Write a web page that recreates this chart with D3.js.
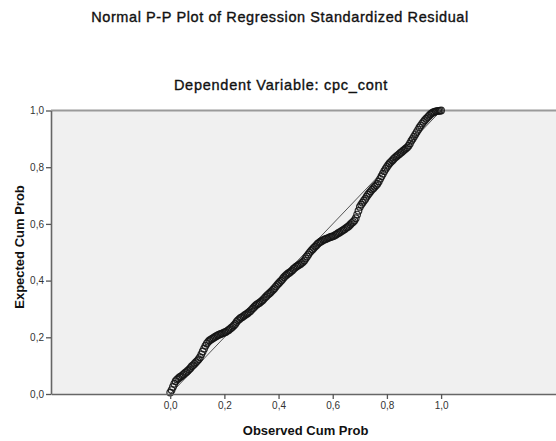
<!DOCTYPE html>
<html>
<head>
<meta charset="utf-8">
<style>
  body { margin: 0; background: #fff; }
  svg text { font-family: Arial, "Liberation Sans", sans-serif; }
</style>
</head>
<body>
<div id="chart"></div>
<script src="https://d3js.org/d3.v7.min.js"></script>
<script>
// observed cumulative probability (x) and expected cumulative probability (y)
var observed = [0.000,0.005,0.010,0.015,0.020,0.025,0.030,0.035,0.040,0.045,
  0.050,0.055,0.060,0.065,0.070,0.075,0.080,0.085,0.090,0.095,
  0.100,0.105,0.110,0.115,0.120,0.125,0.130,0.135,0.140,0.145,
  0.150,0.155,0.160,0.165,0.170,0.175,0.180,0.185,0.190,0.195,
  0.200,0.205,0.210,0.215,0.220,0.225,0.230,0.235,0.240,0.245,
  0.250,0.255,0.260,0.265,0.270,0.275,0.280,0.285,0.290,0.295,
  0.300,0.305,0.310,0.315,0.320,0.325,0.330,0.335,0.340,0.345,
  0.350,0.355,0.360,0.365,0.370,0.375,0.380,0.385,0.390,0.395,
  0.400,0.405,0.410,0.415,0.420,0.425,0.430,0.435,0.440,0.445,
  0.450,0.455,0.460,0.465,0.470,0.475,0.480,0.485,0.490,0.495,
  0.500,0.505,0.510,0.515,0.520,0.525,0.530,0.535,0.540,0.545,
  0.550,0.555,0.560,0.565,0.570,0.575,0.580,0.585,0.590,0.595,
  0.600,0.605,0.610,0.615,0.620,0.625,0.630,0.635,0.640,0.645,
  0.650,0.655,0.660,0.665,0.670,0.675,0.680,0.685,0.690,0.695,
  0.700,0.705,0.710,0.715,0.720,0.725,0.730,0.735,0.740,0.745,
  0.750,0.755,0.760,0.765,0.770,0.775,0.780,0.785,0.790,0.795,
  0.800,0.805,0.810,0.815,0.820,0.825,0.830,0.835,0.840,0.845,
  0.850,0.855,0.860,0.865,0.870,0.875,0.880,0.885,0.890,0.895,
  0.900,0.905,0.910,0.915,0.920,0.925,0.930,0.935,0.940,0.945,
  0.950,0.955,0.960,0.965,0.970,0.975,0.980,0.985,0.990,0.995,1.000];
var expected = [0.005,0.014,0.025,0.036,0.045,0.051,0.055,0.059,0.062,0.066,
  0.070,0.074,0.078,0.082,0.087,0.092,0.098,0.102,0.107,0.112,
  0.117,0.123,0.130,0.140,0.150,0.160,0.170,0.178,0.184,0.189,
  0.192,0.195,0.198,0.201,0.204,0.207,0.209,0.211,0.213,0.215,
  0.217,0.219,0.222,0.225,0.229,0.233,0.237,0.242,0.247,0.254,
  0.260,0.264,0.268,0.271,0.274,0.278,0.281,0.284,0.288,0.292,
  0.297,0.302,0.307,0.312,0.316,0.319,0.322,0.326,0.330,0.335,
  0.340,0.345,0.350,0.354,0.358,0.363,0.368,0.373,0.379,0.385,
  0.390,0.395,0.400,0.406,0.412,0.417,0.421,0.425,0.428,0.432,
  0.436,0.441,0.445,0.449,0.452,0.455,0.458,0.462,0.466,0.471,
  0.478,0.485,0.492,0.499,0.505,0.510,0.515,0.520,0.525,0.530,
  0.534,0.537,0.540,0.543,0.545,0.547,0.549,0.551,0.553,0.555,
  0.556,0.558,0.561,0.564,0.567,0.570,0.573,0.576,0.579,0.582,
  0.586,0.589,0.593,0.598,0.603,0.607,0.612,0.620,0.633,0.646,
  0.660,0.668,0.675,0.682,0.688,0.696,0.703,0.709,0.715,0.721,
  0.726,0.731,0.736,0.742,0.750,0.759,0.768,0.777,0.786,0.794,
  0.801,0.808,0.814,0.819,0.824,0.829,0.834,0.838,0.842,0.846,
  0.850,0.854,0.858,0.862,0.866,0.870,0.876,0.884,0.893,0.900,
  0.908,0.916,0.924,0.932,0.940,0.947,0.954,0.960,0.966,0.971,
  0.976,0.981,0.986,0.990,0.993,0.995,0.997,0.998,0.999,0.999,1.000];
var tickValues = [0, 0.2, 0.4, 0.6, 0.8, 1.0];
var refLine = [0, 1];

var width = 556, height = 441;
var plotLeft = 51, plotRight = 563, plotTop = 110.5, plotBottom = 394;

var svg = d3.select("#chart").append("svg")
  .attr("width", width)
  .attr("height", height);

// x range is wider than the data on both sides, like the SPSS chart
var x = d3.scaleLinear().domain([-0.44, 1.45]).range([plotLeft, plotRight]);
var y = d3.scaleLinear().domain([0, 1]).range([plotBottom, plotTop]);

var fmt = function(d) { return d3.format(".1f")(d).replace(".", ","); };

// plot background
svg.append("rect")
  .attr("x", plotLeft).attr("y", plotTop)
  .attr("width", plotRight - plotLeft).attr("height", plotBottom - plotTop)
  .attr("fill", "#f0f0f0");

svg.append("line")
  .attr("x1", plotLeft).attr("x2", plotRight)
  .attr("y1", plotTop).attr("y2", plotTop)
  .attr("stroke", "#9a9a9a").attr("stroke-width", 2);

// diagonal reference line
svg.append("line")
  .attr("x1", x(refLine[0])).attr("y1", y(refLine[0]))
  .attr("x2", x(refLine[1])).attr("y2", y(refLine[1]))
  .attr("stroke", "#555").attr("stroke-width", 1);

// points
svg.append("g").selectAll("circle")
  .data(observed)
  .enter().append("circle")
    .attr("cx", function(d) { return x(d); })
    .attr("cy", function(d, i) { return y(expected[i]); })
    .attr("r", 3.3)
    .attr("fill", "none")
    .attr("stroke", "#141414")
    .attr("stroke-opacity", 0.9)
    .attr("stroke-width", 1.2);

// axes
var xAxis = svg.append("g")
  .attr("transform", "translate(0," + plotBottom + ")")
  .call(d3.axisBottom(x).tickValues(tickValues).tickFormat(fmt).tickSize(5).tickSizeOuter(0));
var yAxis = svg.append("g")
  .attr("transform", "translate(" + plotLeft + ",0)")
  .call(d3.axisLeft(y).tickValues(tickValues).tickFormat(fmt).tickSize(5).tickSizeOuter(0));

[xAxis, yAxis].forEach(function(a) {
  a.select(".domain").attr("stroke", "#666").attr("stroke-width", 1.6);
  a.selectAll(".tick line").attr("stroke", "#555").attr("stroke-width", 1.3);
  a.selectAll(".tick text").attr("fill", "#333").style("font-size", "10px")
    .style("font-family", "Arial, 'Liberation Sans', sans-serif");
});
xAxis.selectAll(".tick text").attr("y", 8);
yAxis.selectAll(".tick text").attr("x", -7);

// titles (a thin stroke gives the medium weight of the original)
svg.append("text")
  .attr("x", 280).attr("y", 22)
  .attr("text-anchor", "middle")
  .style("font-size", "14.5px").style("letter-spacing", "0.6px")
  .attr("fill", "#111").attr("stroke", "#111").attr("stroke-width", 0.35)
  .text("Normal P-P Plot of Regression Standardized Residual");

svg.append("text")
  .attr("x", 281).attr("y", 90)
  .attr("text-anchor", "middle")
  .style("font-size", "14.5px").style("letter-spacing", "0.75px")
  .attr("fill", "#111").attr("stroke", "#111").attr("stroke-width", 0.35)
  .text("Dependent Variable: cpc_cont");

svg.append("text")
  .attr("x", (x(0) + x(1)) / 2).attr("y", 435)
  .attr("text-anchor", "middle")
  .style("font-size", "13px").style("font-weight", "bold").attr("fill", "#111")
  .text("Observed Cum Prob");

svg.append("text")
  .attr("transform", "translate(24,247) rotate(-90)")
  .attr("text-anchor", "middle")
  .style("font-size", "13px").style("font-weight", "bold").attr("fill", "#111")
  .text("Expected Cum Prob");
</script>
</body>
</html>
